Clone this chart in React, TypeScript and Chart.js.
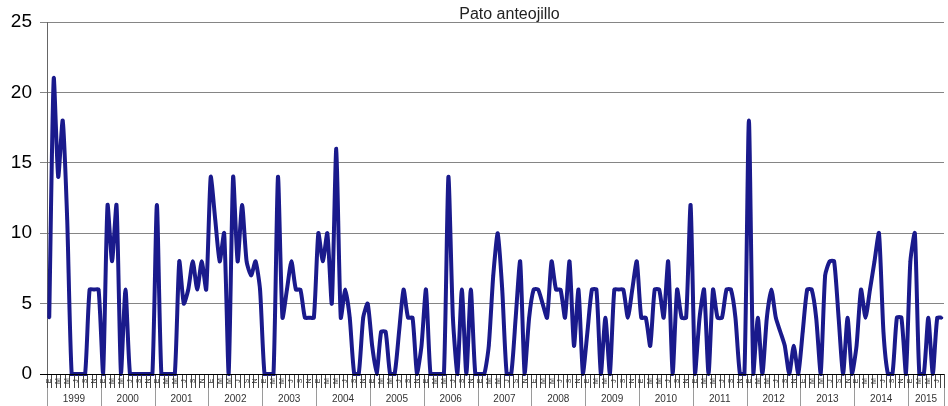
import React, { useEffect, useRef } from 'react';
import { Chart, registerables } from 'chart.js';

Chart.register(...registerables);

const TITLE = 'Pato anteojillo';
const MONTHS = ['E', 'F', 'M', 'A', 'M', 'J', 'J', 'A', 'S', 'O', 'N', 'D'];
const YEARS = [1999, 2000, 2001, 2002, 2003, 2004, 2005, 2006, 2007, 2008, 2009, 2010, 2011, 2012, 2013, 2014, 2015];
const Y_TICKS = [0, 5, 10, 15, 20, 25];

const v1999 = [4, 21, 14, 18, 11, 0, 0, 0, 0, 6, 6, 6];
const v2000 = [0, 12, 8, 12, 0, 6, 0, 0, 0, 0, 0, 0];
const v2001 = [12, 0, 0, 0, 0, 8, 5, 6, 8, 6, 8, 6];
const v2002 = [14, 11, 8, 10, 0, 14, 8, 12, 8, 7, 8, 6];
const v2003 = [0, 0, 0, 14, 4, 6, 8, 6, 6, 4, 4, 4];
const v2004 = [10, 8, 10, 5, 16, 4, 6, 4, 0, 0, 4, 5];
const v2005 = [2, 0, 3, 3, 0, 0, 3, 6, 4, 4, 0, 2];
const v2006 = [6, 0, 0, 0, 0, 14, 4, 0, 6, 0, 6, 0];
const v2007 = [0, 0, 2, 7, 10, 6, 0, 0, 4, 8, 0, 4];
const v2008 = [6, 6, 5, 4, 8, 6, 6, 4, 8, 2, 6, 0];
const v2009 = [3, 6, 6, 0, 4, 0, 6, 6, 6, 4, 6, 8];
const v2010 = [4, 4, 2, 6, 6, 4, 8, 0, 6, 4, 4, 12];
const v2011 = [0, 4, 6, 0, 6, 4, 4, 6, 6, 4, 0, 0];
const v2012 = [18, 0, 4, 0, 4, 6, 4, 3, 2, 0, 2, 0];
const v2013 = [3, 6, 6, 4, 0, 7, 8, 8, 4, 0, 4, 0];
const v2014 = [2, 6, 4, 6, 8, 10, 3, 0, 0, 4, 4, 0];
const v2015 = [8, 10, 0, 0, 4, 0, 4, 4];

const SERIES = [v1999, v2000, v2001, v2002, v2003, v2004, v2005, v2006, v2007, v2008,
  v2009, v2010, v2011, v2012, v2013, v2014, v2015];

const CATEGORIES = SERIES.flatMap((vals, yi) => vals.map((_, mi) => ({ year: YEARS[yi], month: mi })));
const LABELS = CATEGORIES.map((c) => `${MONTHS[c.month]} ${c.year}`);
const VALUES = SERIES.flat();

const LINE_COLOR = '#1a1a8c';
const FONT = '"Liberation Sans", Arial, sans-serif';

const titlePlugin = {
  id: 'customTitle',
  afterDraw(chart: any) {
    const { ctx, chartArea } = chart;
    ctx.save();
    ctx.font = `16px ${FONT}`;
    ctx.fillStyle = '#222';
    ctx.textAlign = 'center';
    ctx.textBaseline = 'alphabetic';
    ctx.fillText(TITLE, (chartArea.left + chartArea.right) / 2 + 14, chartArea.top - 3);
    ctx.restore();
  },
};

const axisPlugin = {
  id: 'monthYearAxis',
  afterDraw(chart: any) {
    const { ctx, chartArea } = chart;
    const x = chart.scales.x;
    const n = CATEGORIES.length;
    const bottom = chartArea.bottom;
    const H = chart.height;
    const edge = (i: number) => Math.round(x.getPixelForValue(i - 0.5)) + 0.5;
    ctx.save();
    // month tick marks
    ctx.strokeStyle = '#444';
    ctx.lineWidth = 1;
    ctx.beginPath();
    for (let i = 0; i <= n; i++) {
      const px = edge(i);
      ctx.moveTo(px, bottom);
      ctx.lineTo(px, bottom + 14);
    }
    ctx.stroke();
    // year separators
    ctx.strokeStyle = '#9a9a9a';
    ctx.beginPath();
    const starts: number[] = [];
    CATEGORIES.forEach((c, i) => { if (c.month === 0) starts.push(i); });
    starts.forEach((i) => {
      const px = edge(i);
      ctx.moveTo(px, bottom + 14);
      ctx.lineTo(px, H);
    });
    ctx.moveTo(edge(n), bottom + 14);
    ctx.lineTo(edge(n), H);
    ctx.stroke();
    // month labels (rotated)
    ctx.fillStyle = '#333';
    ctx.font = `7px ${FONT}`;
    ctx.textAlign = 'center';
    ctx.textBaseline = 'middle';
    CATEGORIES.forEach((c, i) => {
      if (c.month % 2 !== 0) return;
      const px = x.getPixelForValue(i);
      ctx.save();
      ctx.translate(px, bottom + 7);
      ctx.rotate(-Math.PI / 2);
      ctx.fillText(MONTHS[c.month], 0, 0);
      ctx.restore();
    });
    // year labels
    ctx.font = `10px ${FONT}`;
    ctx.fillStyle = '#333';
    starts.forEach((s, k) => {
      const e = k + 1 < starts.length ? starts[k + 1] : n;
      const cx = (x.getPixelForValue(s - 0.5) + x.getPixelForValue(e - 0.5)) / 2;
      ctx.fillText(String(CATEGORIES[s].year), cx, bottom + 25);
    });
    // axis line
    ctx.strokeStyle = '#000';
    ctx.beginPath();
    ctx.moveTo(chartArea.left - 7, Math.round(bottom) + 0.5);
    ctx.lineTo(chartArea.right, Math.round(bottom) + 0.5);
    ctx.stroke();
    ctx.restore();
  },
};

export default function App() {
  const ref = useRef<HTMLCanvasElement | null>(null);
  useEffect(() => {
    if (!ref.current) return;
    const chart = new Chart(ref.current, {
      type: 'line',
      data: {
        labels: LABELS,
        datasets: [
          {
            data: VALUES,
            borderColor: LINE_COLOR,
            backgroundColor: LINE_COLOR,
            borderWidth: 4,
            pointRadius: 1.5,
            pointBorderWidth: 0,
            pointBackgroundColor: LINE_COLOR,
            tension: 0.2,
            clip: 6,
          } as any,
        ],
      },
      options: {
        animation: false,
        responsive: false,
        devicePixelRatio: 1,
        layout: { padding: { top: 22, right: 3, left: 0, bottom: 0 } },
        plugins: { legend: { display: false }, title: { display: false }, tooltip: { enabled: false } },
        scales: {
          x: {
            type: 'category',
            offset: true,
            ticks: { display: false },
            grid: { display: false },
            border: { display: false },
            afterFit: (s: any) => { s.height = 32; },
          },
          y: {
            min: Y_TICKS[0],
            max: Y_TICKS[Y_TICKS.length - 1],
            afterBuildTicks: (s: any) => { s.ticks = Y_TICKS.map((v) => ({ value: v })); },
            ticks: { padding: 8, color: '#000', font: { size: 19, family: FONT } },
            grid: { color: '#858585', lineWidth: 1, tickLength: 7, drawTicks: true },
            border: { display: true, color: '#666', width: 1 },
            afterFit: (s: any) => { s.width = 47; },
          },
        },
      },
      plugins: [titlePlugin, axisPlugin],
    });
    return () => chart.destroy();
  }, []);
  return (
    <div style={{ position: 'absolute', left: 0, top: 0, width: 948, height: 406, background: '#fff' }}>
      <canvas ref={ref} width={948} height={406} style={{ display: 'block' }} />
    </div>
  );
}
